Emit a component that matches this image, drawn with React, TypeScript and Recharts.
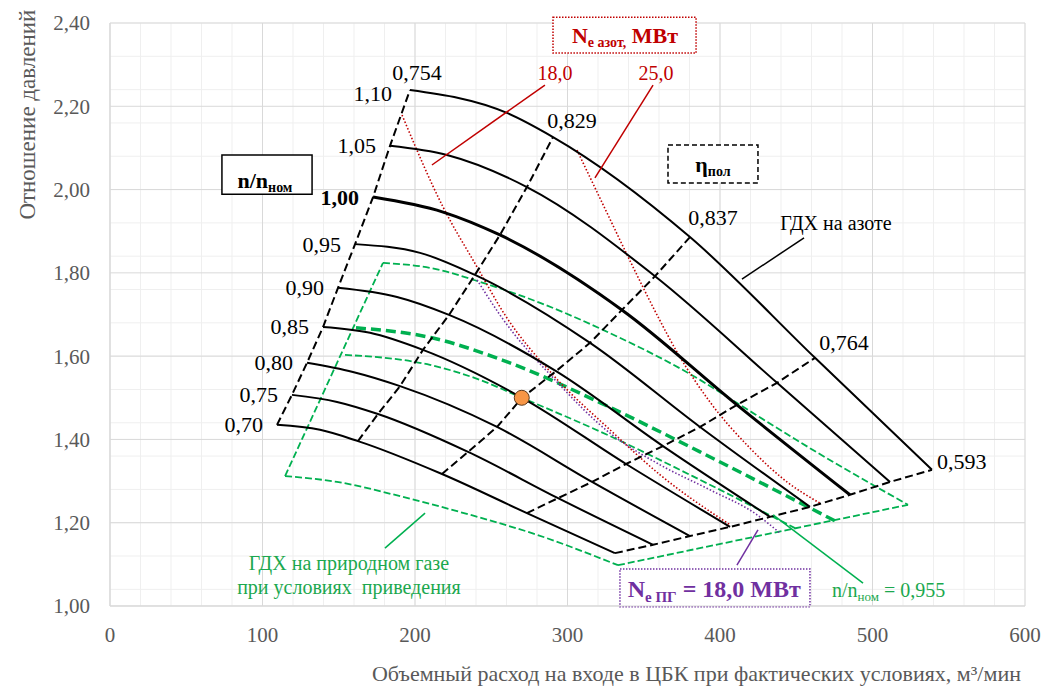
import React from 'react';
import { ComposedChart, Line, XAxis, YAxis, CartesianGrid, ReferenceDot, ReferenceArea, Scatter } from 'recharts';

type Pt = { x: number; y: number };
type Arr = number[][];

// axis ticks
const xTicks = [0, 100, 200, 300, 400, 500, 600];
const yTicks = [1.0, 1.2, 1.4, 1.6, 1.8, 2.0, 2.2, 2.4];
const minorX: number[] = [];
for (let v = 0; v <= 600; v += 20) minorX.push(v);
const minorY: number[] = [];
for (let i = 0; i <= 35; i++) minorY.push(+(1 + i * 0.04).toFixed(2));

// speed lines n/n_nom (points: surge, mid, eta 0.829, eta 0.837, eta 0.764, choke)
const speedLabels = ['0,70', '0,75', '0,80', '0,85', '0,90', '0,95', '1,00', '1,05', '1,10'];
const n070: Arr = [[109.5, 1.435], [137.7, 1.423], [162.6, 1.396], [217.7, 1.317], [273.4, 1.223], [331.1, 1.127]];
const n075: Arr = [[119.3, 1.507], [148.9, 1.49], [175.7, 1.461], [234.8, 1.37], [293.8, 1.259], [356.1, 1.147]];
const n080: Arr = [[129.2, 1.584], [159.3, 1.562], [190.2, 1.528], [253.8, 1.43], [316.1, 1.298], [380.3, 1.168]];
const n085: Arr = [[139.7, 1.67], [170.5, 1.656], [205.2, 1.615], [270.2, 1.5], [338.4, 1.341], [406.6, 1.19]];
const n090: Arr = [[149.5, 1.764], [188.2, 1.742], [222.3, 1.699], [292.5, 1.564], [362.6, 1.384], [432.8, 1.214]];
const n095: Arr = [[160.7, 1.869], [203.3, 1.848], [239.3, 1.795], [314.8, 1.632], [386.9, 1.43], [459.0, 1.238]];
const n100: Arr = [[172.5, 1.982], [218.4, 1.946], [255.7, 1.891], [335.7, 1.711], [411.1, 1.483], [485.2, 1.267]];
const n105: Arr = [[183.6, 2.105], [221.0, 2.083], [273.4, 2.006], [357.4, 1.792], [437.4, 1.536], [511.5, 1.298]];
const n110: Arr = [[196.7, 2.239], [260.3, 2.184], [290.5, 2.126], [380.3, 1.886], [462.3, 1.596], [539.0, 1.327]];
const speedLines: Arr[] = [n070, n075, n080, n085, n090, n095, n100, n105, n110];

// efficiency lines (labels) and which point index of the speed lines they pass through
const etaLabels = ['0,754', '0,829', '0,837', '0,764', '0,593'];
const etaIndex = [0, 2, 3, 4, 5];

// N_e nitrogen power lines
const ne18: Arr = [[191.5, 2.179], [218.4, 1.958], [240.7, 1.814], [259.0, 1.699], [290.5, 1.555], [327.9, 1.423], [360.7, 1.315], [406.6, 1.195]];
const ne25: Arr = [[306.2, 2.095], [325.9, 1.944], [342.3, 1.819], [358.7, 1.699], [371.8, 1.61], [393.4, 1.49], [419.7, 1.379], [443.9, 1.298], [465.6, 1.247]];
// N_e natural gas 18.0
const nePG: Arr = [[240.7, 1.783], [255.7, 1.699], [293.1, 1.538], [327.9, 1.415], [360.7, 1.339], [393.4, 1.279], [424.3, 1.219], [439.3, 1.175]];

// natural gas GDX envelope
const gTop: Arr = [[179.0, 1.824], [209.8, 1.812], [244.6, 1.776], [282.0, 1.728], [323.3, 1.663], [386.9, 1.543], [413.1, 1.483], [459.0, 1.379], [523.3, 1.243]];
const gBottom: Arr = [[114.8, 1.312], [148.9, 1.298], [192.1, 1.262], [236.1, 1.219], [280.0, 1.171], [333.1, 1.098]];
const gSurge: Arr = [[114.8, 1.312], [179.0, 1.824]];
const gChoke: Arr = [[333.1, 1.098], [523.3, 1.243]];
const gThick: Arr = [[161.3, 1.668], [211.1, 1.644], [257.7, 1.59], [327.9, 1.477], [386.9, 1.37], [476.7, 1.202]];
const gThin: Arr = [[154.1, 1.603], [209.8, 1.579], [242.6, 1.543], [270.2, 1.5], [327.9, 1.408], [386.9, 1.303], [449.2, 1.187]];

// operating point
const opPoint: Pt[] = [{ x: 270, y: 1.5 }];

// callout leader lines
const callRed18: Arr = [[211.1, 2.059], [285.2, 2.251]];
const callRed25: Arr = [[318.0, 2.028], [356.1, 2.251]];
const callNitro: Arr = [[414.4, 1.785], [455.1, 1.884]];
const callGas: Arr = [[180.3, 1.139], [206.6, 1.223]];
const callPG: Arr = [[411.1, 1.098], [424.9, 1.183]];
const callN955: Arr = [[434.8, 1.219], [493.8, 1.055]];

const toPts = (a: Arr): Pt[] => a.map(([x, y]) => ({ x, y }));

const BLACK = '#000000';
const RED = '#C00000';
const PURPLE = '#7030A0';
const GREEN = '#00B050';
const GREEN_TXT = '#1BA84E';
const GRAY = '#595959';
const FONT = '"Liberation Serif", "Times New Roman", serif';

const line = (key: string, a: Arr, stroke: string, width: number, dash?: string, type: any = 'linear') => (
  <Line
    key={key}
    data={toPts(a)}
    dataKey="y"
    type={type}
    stroke={stroke}
    strokeWidth={width}
    strokeDasharray={dash}
    dot={false}
    activeDot={false}
    isAnimationActive={false}
    legendType="none"
  />
);

const txt = (key: string, x: number, y: number, children: React.ReactNode, p: any = {}) => (
  <ReferenceDot
    key={key}
    x={x}
    y={y}
    r={1}
    ifOverflow="visible"
    fill="none"
    stroke="none"
    shape={(sp: any) => (
      <text x={sp.cx} y={sp.cy} fontFamily={FONT} style={{ fontFamily: FONT }} {...p}>
        {children}
      </text>
    )}
  />
);

export default function App() {
  const etaLines = etaIndex.map((idx) => speedLines.map((s) => s[idx]));
  return (
    <div style={{ position: 'absolute', left: 0, top: 0, width: 1048, height: 691, background: '#fff', fontFamily: FONT }}>
      <ComposedChart width={1048} height={691} margin={{ top: 23, right: 23, left: 0, bottom: 0 }}>
        <XAxis xAxisId="m" type="number" dataKey="x" domain={[0, 600]} ticks={minorX} hide allowDataOverflow />
        <YAxis yAxisId="m" type="number" domain={[1, 2.4]} ticks={minorY} hide allowDataOverflow />
        <CartesianGrid xAxisId="m" yAxisId="m" stroke="#efefef" strokeWidth={1} />
        <CartesianGrid stroke="#d9d9d9" strokeWidth={1} />
        <XAxis
          type="number"
          dataKey="x"
          domain={[0, 600]}
          ticks={xTicks}
          allowDataOverflow
          height={85}
          axisLine={{ stroke: '#d9d9d9' }}
          tickLine={false}
          tickMargin={15}
          tick={{ fill: GRAY, fontSize: 21, fontFamily: FONT }}
        />
        <YAxis
          type="number"
          domain={[1, 2.4]}
          ticks={yTicks}
          allowDataOverflow
          width={110}
          axisLine={{ stroke: '#d9d9d9' }}
          tickLine={false}
          tickMargin={14}
          tickFormatter={(v: number) => v.toFixed(2).replace('.', ',')}
          tick={{ fill: GRAY, fontSize: 21, fontFamily: FONT }}
        />

        {/* natural gas envelope */}
        {line('gTop', gTop, GREEN, 1.8, '7 3', 'monotone')}
        {line('gBottom', gBottom, GREEN, 1.8, '7 3', 'monotone')}
        {line('gSurge', gSurge, GREEN, 1.8, '7 3')}
        {line('gChoke', gChoke, GREEN, 1.8, '7 3')}
        {line('gThin', gThin, GREEN, 1.8, '7 3', 'monotone')}
        {line('gThick', gThick, GREEN, 3.5, '10 5', 'monotone')}

        {/* power lines */}
        {line('ne18', ne18, RED, 1.6, '1.5 2', 'monotone')}
        {line('ne25', ne25, RED, 1.6, '1.5 2', 'monotone')}
        {line('nePG', nePG, PURPLE, 1.6, '1.5 2', 'monotone')}

        {/* speed lines */}
        {speedLines.map((s, i) => line('n' + i, s, BLACK, i === 6 ? 3 : 2, undefined, 'monotone'))}
        {/* efficiency lines */}
        {etaLines.map((s, i) => line('eta' + i, s, BLACK, 2, '8 4'))}

        {/* callouts */}
        {line('c1', callRed18, RED, 1.5)}
        {line('c2', callRed25, RED, 1.5)}
        {line('c3', callNitro, BLACK, 1.5)}
        {line('c4', callGas, GREEN, 1.5)}
        {line('c5', callPG, PURPLE, 1.5)}
        {line('c6', callN955, GREEN, 1.5)}

        <Scatter
          data={opPoint}
          dataKey="y"
          isAnimationActive={false}
          legendType="none"
          shape={(p: any) => <circle cx={p.cx} cy={p.cy} r={7.5} fill="#F79646" stroke="#5b3a1e" strokeWidth={1} />}
        />

        {/* boxes */}
        <ReferenceArea x1={73.4} x2={132.5} y1={1.989} y2={2.083} ifOverflow="visible" fill="#fff" fillOpacity={1} stroke="#000" strokeWidth={1.5} />
        <ReferenceArea x1={290.5} x2={384.3} y1={2.328} y2={2.414} ifOverflow="visible" fill="#fff" fillOpacity={1} stroke={RED} strokeWidth={1.5} strokeDasharray="1.5 1.5" />
        <ReferenceArea x1={365.9} x2={424.9} y1={2.016} y2={2.107} ifOverflow="visible" fill="#fff" fillOpacity={1} stroke="#000" strokeWidth={1.5} strokeDasharray="5 3" />
        <ReferenceArea x1={334.4} x2={459.0} y1={0.998} y2={1.089} ifOverflow="visible" fill="#fff" fillOpacity={1} stroke={PURPLE} strokeWidth={1.5} strokeDasharray="1.5 1.5" />

        {/* box texts */}
        {txt('tb1', 101.6, 2.004, [
          <tspan key="a">n/n</tspan>,
          <tspan key="b" fontSize={14} dy={4}>ном</tspan>,
        ], { textAnchor: 'middle', fontSize: 22, fontWeight: 'bold', fill: '#000' })}
        {txt('tb2', 337.7, 2.352, [
          <tspan key="a">N</tspan>,
          <tspan key="b" fontSize={14} dy={4}>е азот,</tspan>,
          <tspan key="c" dy={-4}> МВт</tspan>,
        ], { textAnchor: 'middle', fontSize: 22, fontWeight: 'bold', fill: RED })}
        {txt('tb3', 395.4, 2.042, [
          <tspan key="a">η</tspan>,
          <tspan key="b" fontSize={14} dy={4}>пол</tspan>,
        ], { textAnchor: 'middle', fontSize: 22, fontWeight: 'bold', fill: '#000' })}
        {txt('tb4', 396.2, 1.022, [
          <tspan key="a">N</tspan>,
          <tspan key="b" fontSize={15} dy={5}>е ПГ</tspan>,
          <tspan key="c" dy={-5}> = 18,0 МВт</tspan>,
        ], { textAnchor: 'middle', fontSize: 24, fontWeight: 'bold', fill: PURPLE })}
        {txt('tb5', 473.4, 1.022, [
          <tspan key="a">n/n</tspan>,
          <tspan key="b" fontSize={13} dy={4}>ном</tspan>,
          <tspan key="c" dy={-4}> = 0,955</tspan>,
        ], { textAnchor: 'start', fontSize: 20, fill: GREEN_TXT })}

        {/* speed labels */}
        {speedLines.map((s, i) =>
          txt('sl' + i, s[0][0], s[0][1], speedLabels[i], {
            textAnchor: 'end',
            dx: i === 8 ? -18 : -14,
            dy: i === 8 ? 3 : 0,
            dominantBaseline: 'central',
            fontSize: 22,
            fontWeight: i === 6 ? 'bold' : 'normal',
            fill: '#000',
          })
        )}

        {/* efficiency labels */}
        {txt('e0', 201.3, 2.282, etaLabels[0], { textAnchor: 'middle', dominantBaseline: 'central', fontSize: 22, fill: '#000' })}
        {txt('e1', 302.9, 2.167, etaLabels[1], { textAnchor: 'middle', dominantBaseline: 'central', fontSize: 22, fill: '#000' })}
        {txt('e2', 395.4, 1.932, etaLabels[2], { textAnchor: 'middle', dominantBaseline: 'central', fontSize: 22, fill: '#000' })}
        {txt('e3', 481.3, 1.632, etaLabels[3], { textAnchor: 'middle', dominantBaseline: 'central', fontSize: 22, fill: '#000' })}
        {txt('e4', 542.3, 1.346, etaLabels[4], { textAnchor: 'start', dominantBaseline: 'central', fontSize: 22, fill: '#000' })}

        {/* power labels */}
        {txt('p18', 291.8, 2.28, '18,0', { textAnchor: 'middle', dominantBaseline: 'central', fontSize: 20, fill: RED })}
        {txt('p25', 358.0, 2.28, '25,0', { textAnchor: 'middle', dominantBaseline: 'central', fontSize: 20, fill: RED })}

        {txt('nit', 476.0, 1.92, 'ГДХ на азоте', { textAnchor: 'middle', dominantBaseline: 'central', fontSize: 20, fill: '#000' })}
        {txt('gas1', 156.7, 1.103, 'ГДХ на природном газе', { textAnchor: 'middle', dominantBaseline: 'central', fontSize: 20, fill: GREEN_TXT })}
        {txt('gas2', 156.7, 1.046, 'при условиях  приведения', { textAnchor: 'middle', dominantBaseline: 'central', fontSize: 20, fill: GREEN_TXT, style: { whiteSpace: 'pre', fontFamily: FONT } })}

        {/* axis titles */}
        {txt('xt', 171.8, 0.82, 'Объемный расход на входе в ЦБК при фактических условиях, м³/мин', { textAnchor: 'start', fontSize: 22, fill: GRAY })}
        <ReferenceDot
          x={-49}
          y={2.18}
          r={1}
          ifOverflow="visible"
          fill="none"
          stroke="none"
          shape={(sp: any) => (
            <text x={sp.cx} y={sp.cy} transform={`rotate(-90 ${sp.cx} ${sp.cy})`} textAnchor="middle" fontFamily={FONT} style={{ fontFamily: FONT }} fontSize={23} fill={GRAY}>
              Отношение давлений
            </text>
          )}
        />
      </ComposedChart>
    </div>
  );
}
